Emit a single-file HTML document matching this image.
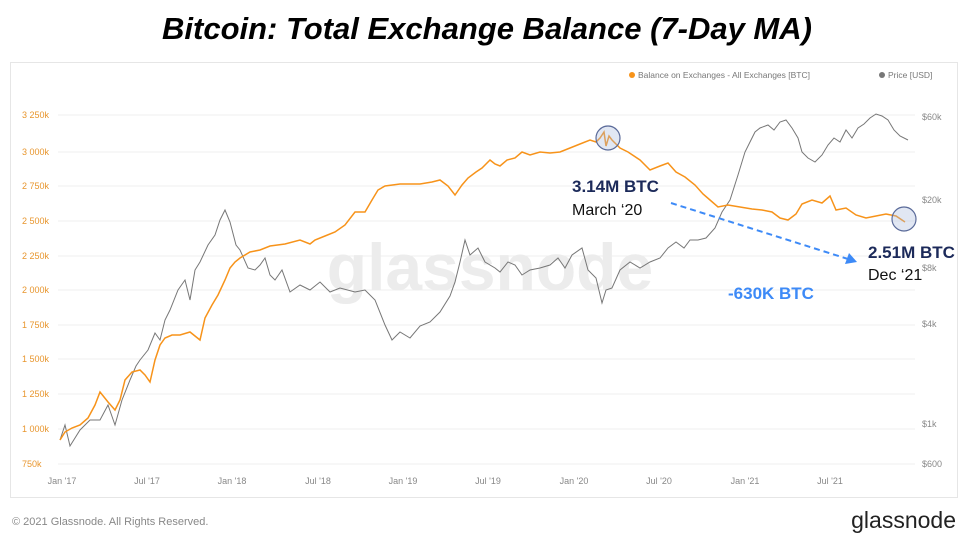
<!DOCTYPE html>
<html><head><meta charset="utf-8"><style>
body{margin:0;width:974px;height:541px;background:#fff;overflow:hidden;font-family:"Liberation Sans",sans-serif}
</style></head><body>
<svg width="974" height="541" xmlns="http://www.w3.org/2000/svg" font-family="Liberation Sans, sans-serif">
<text x="487" y="39" text-anchor="middle" font-size="31" font-weight="bold" font-style="italic" fill="#000">Bitcoin: Total Exchange Balance (7-Day MA)</text>
<rect x="10.5" y="62.5" width="947" height="435" fill="#fff" stroke="#e6e6e6"/>
<g stroke="#efefef" stroke-width="1">
<line x1="58" x2="915" y1="115" y2="115"/><line x1="58" x2="915" y1="152" y2="152"/><line x1="58" x2="915" y1="186" y2="186"/><line x1="58" x2="915" y1="221" y2="221"/><line x1="58" x2="915" y1="256" y2="256"/><line x1="58" x2="915" y1="290" y2="290"/><line x1="58" x2="915" y1="325" y2="325"/><line x1="58" x2="915" y1="359" y2="359"/><line x1="58" x2="915" y1="394" y2="394"/><line x1="58" x2="915" y1="429" y2="429"/><line x1="58" x2="915" y1="464" y2="464"/>
</g>
<g font-size="9" fill="#e8962e">
<text x="22" y="118">3 250k</text><text x="22" y="155">3 000k</text><text x="22" y="189">2 750k</text><text x="22" y="224">2 500k</text><text x="22" y="259">2 250k</text><text x="22" y="293">2 000k</text><text x="22" y="328">1 750k</text><text x="22" y="362">1 500k</text><text x="22" y="397">1 250k</text><text x="22" y="432">1 000k</text><text x="22" y="467">750k</text>
</g>
<g font-size="9" fill="#888">
<text x="922" y="120">$60k</text><text x="922" y="203">$20k</text><text x="922" y="271">$8k</text><text x="922" y="327">$4k</text><text x="922" y="427">$1k</text><text x="922" y="467">$600</text>
</g>
<g font-size="9" fill="#888" text-anchor="middle">
<text x="62" y="484">Jan '17</text><text x="147" y="484">Jul '17</text><text x="232" y="484">Jan '18</text><text x="318" y="484">Jul '18</text><text x="403" y="484">Jan '19</text><text x="488" y="484">Jul '19</text><text x="574" y="484">Jan '20</text><text x="659" y="484">Jul '20</text><text x="745" y="484">Jan '21</text><text x="830" y="484">Jul '21</text>
</g>
<circle cx="632" cy="75" r="3" fill="#f7931a"/><text x="638" y="78" font-size="8.5" fill="#777">Balance on Exchanges - All Exchanges [BTC]</text>
<circle cx="882" cy="75" r="3" fill="#777"/><text x="888" y="78" font-size="8.5" fill="#777">Price [USD]</text>
<text x="490" y="290" text-anchor="middle" font-size="66" font-weight="bold" fill="#ececec">glassnode</text>
<polyline fill="none" stroke="#777" stroke-width="1" points="60,440 65,425 70,446 80,430 90,420 100,420 108,405 115,425 122,400 130,380 136,366 140,360 148,350 155,333 160,340 165,320 170,310 178,290 185,280 190,300 195,270 200,262 208,245 215,235 220,220 225,210 230,222 236,245 240,250 248,268 255,270 260,265 265,258 270,275 275,280 282,270 290,292 300,285 310,290 320,282 330,292 340,288 355,292 365,290 375,300 385,325 392,340 400,332 410,338 420,326 430,322 440,312 450,296 455,282 460,262 465,240 470,255 478,248 485,262 495,268 500,272 508,262 515,265 522,275 530,270 540,268 550,265 558,258 565,268 572,255 582,248 588,270 596,278 602,303 606,290 612,288 620,270 630,262 640,268 650,262 660,258 668,248 676,242 684,248 690,240 698,240 706,238 715,228 722,212 730,200 738,175 745,152 750,142 755,132 760,128 768,125 774,130 780,122 786,120 792,128 798,138 802,152 808,158 815,162 822,155 828,145 834,138 840,142 846,130 852,138 858,128 864,124 870,118 876,114 882,116 888,120 894,130 900,136 908,140"/>
<polyline fill="none" stroke="#f7931a" stroke-width="1.5" points="60,440 65,432 72,428 80,425 88,418 95,405 100,392 108,402 115,410 120,400 125,380 132,372 140,370 145,375 150,382 155,360 160,345 165,338 172,335 180,335 190,332 200,340 205,318 212,305 218,295 225,280 230,268 235,262 240,258 250,252 260,250 270,246 285,244 300,240 310,244 315,240 325,236 335,232 345,225 355,212 365,212 372,200 378,190 385,186 400,184 420,184 432,182 440,180 448,186 455,195 462,185 468,178 476,172 482,168 490,160 495,164 500,166 507,160 515,158 522,152 530,155 540,152 550,153 560,152 570,148 580,144 590,140 596,142 600,138 604,132 606,146 609,136 612,140 620,148 628,152 640,160 650,170 660,166 668,163 676,172 685,177 695,185 703,194 710,200 718,207 728,205 740,207 752,209 762,210 772,212 780,218 788,220 796,214 802,204 812,200 822,203 830,196 836,210 846,208 856,215 866,218 876,216 886,214 896,216 905,222"/>
<ellipse cx="608" cy="138" rx="12" ry="12" fill="rgba(170,185,220,0.35)" stroke="#5a6a99" stroke-width="1.2"/>
<ellipse cx="904" cy="219" rx="12" ry="12" fill="rgba(170,185,220,0.35)" stroke="#5a6a99" stroke-width="1.2"/>
<line x1="671" y1="203" x2="848" y2="259" stroke="#3d8af7" stroke-width="2" stroke-dasharray="6,4"/>
<polygon points="857,262 845,264 849,253" fill="#3d8af7"/>
<text x="572" y="192" font-size="17" font-weight="bold" fill="#1c2a5a">3.14M BTC</text>
<text x="572" y="215" font-size="16" fill="#111">March ‘20</text>
<text x="868" y="258" font-size="17" font-weight="bold" fill="#1c2a5a">2.51M BTC</text>
<text x="868" y="280" font-size="16" fill="#111">Dec ‘21</text>
<text x="728" y="299" font-size="17" font-weight="bold" fill="#3d8af7">-630K BTC</text>
<text x="12" y="525" font-size="11" fill="#888">© 2021 Glassnode. All Rights Reserved.</text>
<text x="956" y="528" text-anchor="end" font-size="23" fill="#222">glassnode</text>
</svg>
</body></html>
